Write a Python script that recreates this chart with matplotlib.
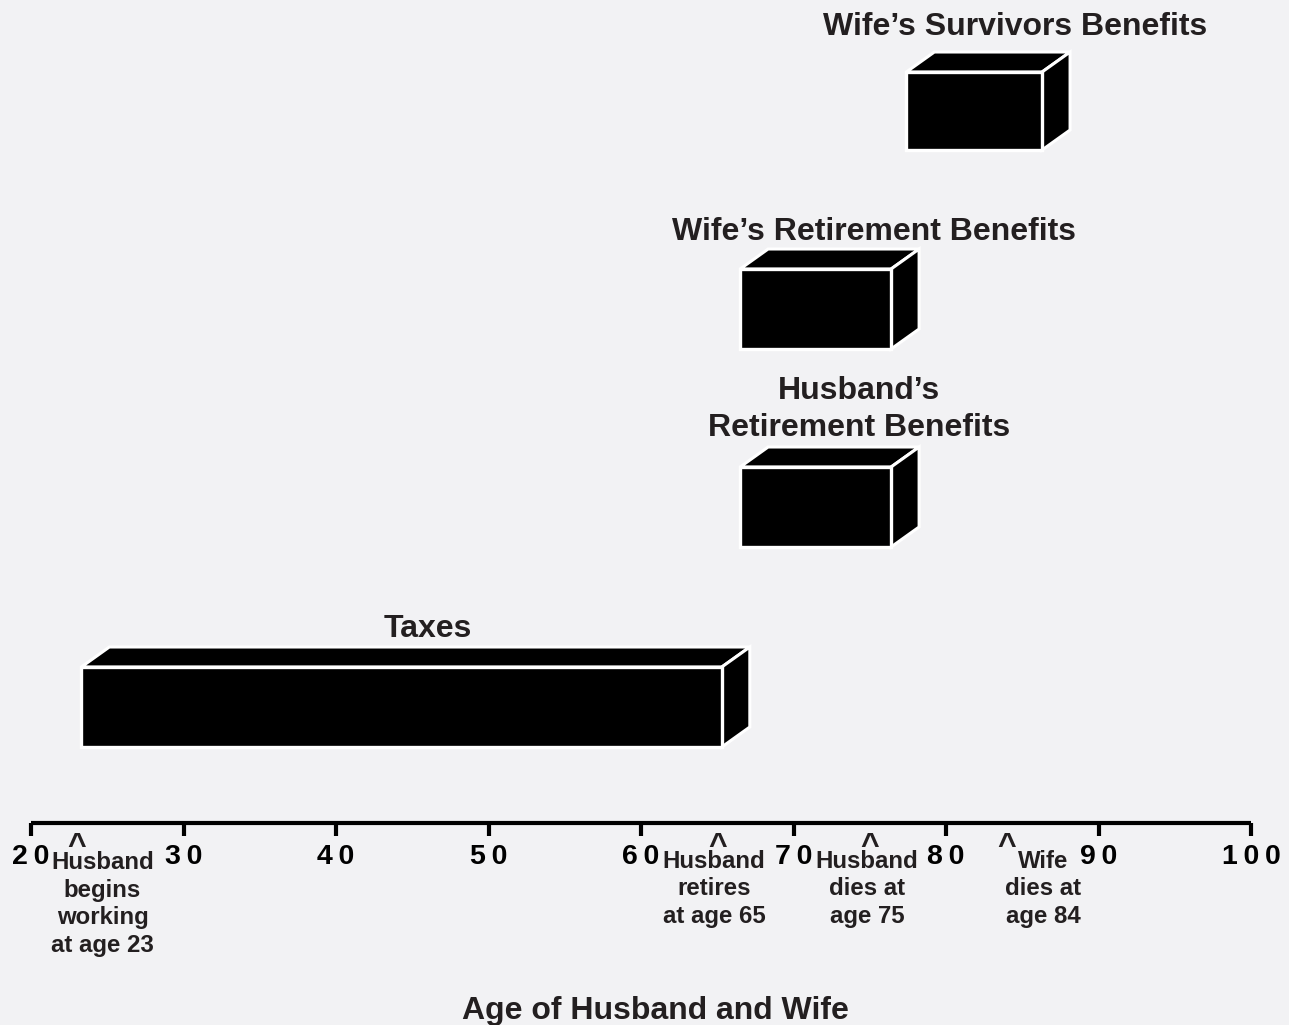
import matplotlib
matplotlib.use("Agg")
import matplotlib.pyplot as plt
from matplotlib.patches import Polygon, Rectangle

# ---- data -------------------------------------------------------------
tick_ages = [20, 30, 40, 50, 60, 70, 80, 90, 100]
tick_labels = ["2\u20090", "3\u20090", "4\u20090", "5\u20090", "6\u20090",
               "7\u20090", "8\u20090", "9\u20090", "1\u20090\u20090"]

bar_names = ["Taxes", "Husband\u2019s\nRetirement Benefits",
             "Wife\u2019s Retirement Benefits", "Wife\u2019s Survivors Benefits"]
bar_start = [23.3, 66.5, 66.5, 77.4]
bar_end = [65.3, 76.4, 76.4, 86.3]

event_ages = [23, 65, 75, 84]
event_texts = ["Husband\nbegins\nworking\nat age 23",
               "Husband\nretires\nat age 65",
               "Husband\ndies at\nage 75",
               "Wife\ndies at\nage 84"]

# ---- layout -------------------------------------------------------------
W, H = 1289, 1025
BG = "#f2f2f4"
TXT = "#231f20"
px_per_year = 15.25
x0_px = 31                      # pixel column of age 20
xmin = 20 - x0_px / px_per_year
xmax = xmin + W / px_per_year

bar_top = [667, 467, 269, 72]   # front-face top (pixels from top)
bar_bot = [747, 547, 349, 150]
label_x = [428, 859, 874, 1015]  # pixel centre of each bar title
label_base = [637, 436, 240, 35]  # baseline of the last title line
depth_dx = 28 / px_per_year
depth_dy = 20

event_label_x = [102.5, 714, 867, 1043]
event_last_base = [952, 923, 923, 923]

axis_y = 823
tick_len = 13

fig = plt.figure(figsize=(W / 100, H / 100), dpi=100, facecolor=BG)
ax = fig.add_axes([0, 0, 1, 1])
ax.set_facecolor(BG)
ax.set_xlim(xmin, xmax)
ax.set_ylim(H, 0)
ax.axis("off")

fam = ["Liberation Sans", "DejaVu Sans"]


def px2age(px):
    return xmin + px / px_per_year


# ---- 3-D boxes ----------------------------------------------------------
for s, e, yt, yb, name, lx, lb in zip(bar_start, bar_end, bar_top, bar_bot,
                                      bar_names, label_x, label_base):
    top = Polygon([(s, yt), (s + depth_dx, yt - depth_dy),
                   (e + depth_dx, yt - depth_dy), (e, yt)],
                  closed=True, facecolor="black", edgecolor="white",
                  linewidth=2.2, joinstyle="miter", zorder=2)
    side = Polygon([(e, yt), (e + depth_dx, yt - depth_dy),
                    (e + depth_dx, yb - depth_dy), (e, yb)],
                   closed=True, facecolor="black", edgecolor="white",
                   linewidth=2.2, joinstyle="miter", zorder=2)
    front = Rectangle((s, yt), e - s, yb - yt, facecolor="black",
                      edgecolor="white", linewidth=2.4, zorder=3)
    ax.add_patch(top)
    ax.add_patch(side)
    ax.add_patch(front)
    ax.text(px2age(lx), lb, name, ha="center", va="baseline",
            fontsize=23, fontweight="bold", color=TXT, family=fam,
            linespacing=1.3, multialignment="center")

# ---- age axis -----------------------------------------------------------
ax.plot([tick_ages[0], tick_ages[-1]], [axis_y, axis_y], color="black",
        linewidth=3, solid_capstyle="butt", zorder=4)
ax.vlines(tick_ages, axis_y, axis_y + tick_len, color="black",
          linewidth=3, zorder=4)
for a, lab in zip(tick_ages, tick_labels):
    ax.text(a, 864, lab, ha="center", va="baseline", fontsize=20.5,
            fontweight="bold", color="black", family=fam)

# ---- event markers ------------------------------------------------------
for a, txt, lx, lb in zip(event_ages, event_texts, event_label_x,
                          event_last_base):
    ax.text(a, 855, "^", ha="center", va="baseline", fontsize=23,
            fontweight="bold", color=TXT, family=fam)
    ax.text(px2age(lx), lb, txt, ha="center", va="baseline",
            fontsize=17.3, fontweight="bold", color=TXT, family=fam,
            linespacing=1.26, multialignment="center")

ax.text(px2age(655), 1019, "Age of Husband and Wife", ha="center",
        va="baseline", fontsize=23, fontweight="bold", color=TXT,
        family=fam)

fig.savefig("out.png", dpi=100, facecolor=BG)
